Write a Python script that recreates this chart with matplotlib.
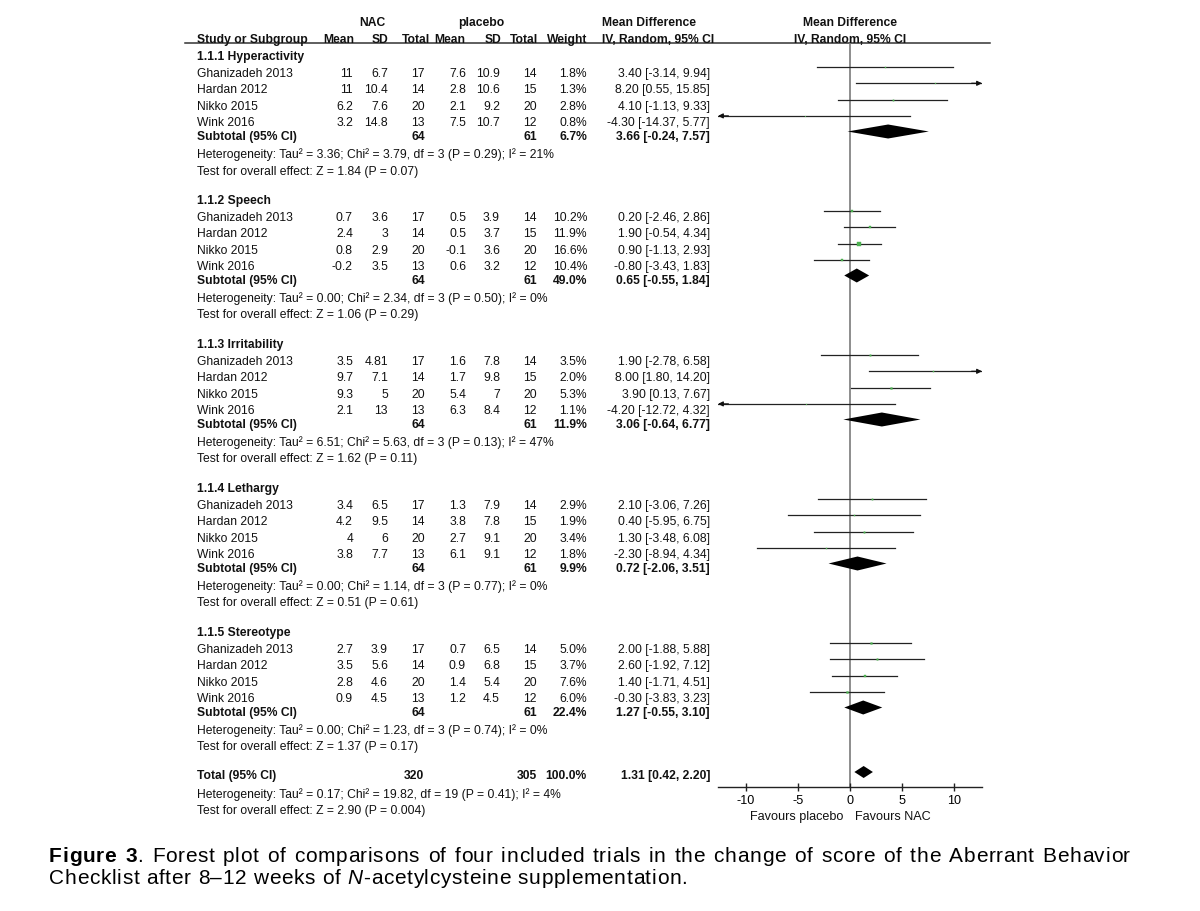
import numpy as np
import matplotlib
matplotlib.use("Agg")
import matplotlib.pyplot as plt

plt.rcParams['font.family'] = ['Liberation Sans', 'DejaVu Sans']

# ---- data -------------------------------------------------------------
studies = ["Ghanizadeh 2013", "Hardan 2012", "Nikko 2015", "Wink 2016"]
groups = ["1.1.1 Hyperactivity", "1.1.2 Speech", "1.1.3 Irritability",
          "1.1.4 Lethargy", "1.1.5 Stereotype"]
n_nac = [17, 14, 20, 13]
n_pla = [14, 15, 20, 12]

nac_mean = [[11, 11, 6.2, 3.2], [0.7, 2.4, 0.8, -0.2], [3.5, 9.7, 9.3, 2.1],
            [3.4, 4.2, 4, 3.8], [2.7, 3.5, 2.8, 0.9]]
nac_sd = [[6.7, 10.4, 7.6, 14.8], [3.6, 3, 2.9, 3.5], [4.81, 7.1, 5, 13],
          [6.5, 9.5, 6, 7.7], [3.9, 5.6, 4.6, 4.5]]
pla_mean = [[7.6, 2.8, 2.1, 7.5], [0.5, 0.5, -0.1, 0.6], [1.6, 1.7, 5.4, 6.3],
            [1.3, 3.8, 2.7, 6.1], [0.7, 0.9, 1.4, 1.2]]
pla_sd = [[10.9, 10.6, 9.2, 10.7], [3.9, 3.7, 3.6, 3.2], [7.8, 9.8, 7, 8.4],
          [7.9, 7.8, 9.1, 9.1], [6.5, 6.8, 5.4, 4.5]]
weights = [[1.8, 1.3, 2.8, 0.8], [10.2, 11.9, 16.6, 10.4], [3.5, 2.0, 5.3, 1.1],
           [2.9, 1.9, 3.4, 1.8], [5.0, 3.7, 7.6, 6.0]]
md = [[3.40, 8.20, 4.10, -4.30], [0.20, 1.90, 0.90, -0.80], [1.90, 8.00, 3.90, -4.20],
      [2.10, 0.40, 1.30, -2.30], [2.00, 2.60, 1.40, -0.30]]
md_lo = [[-3.14, 0.55, -1.13, -14.37], [-2.46, -0.54, -1.13, -3.43],
         [-2.78, 1.80, 0.13, -12.72], [-3.06, -5.95, -3.48, -8.94],
         [-1.88, -1.92, -1.71, -3.83]]
md_hi = [[9.94, 15.85, 9.33, 5.77], [2.86, 4.34, 2.93, 1.83], [6.58, 14.20, 7.67, 4.32],
         [7.26, 6.75, 6.08, 4.34], [5.88, 7.12, 4.51, 3.23]]

sub_n_nac = [64, 64, 64, 64, 64]
sub_n_pla = [61, 61, 61, 61, 61]
sub_weight = [6.7, 49.0, 11.9, 9.9, 22.4]
sub_md = [3.66, 0.65, 3.06, 0.72, 1.27]
sub_lo = [-0.24, -0.55, -0.64, -2.06, -0.55]
sub_hi = [7.57, 1.84, 6.77, 3.51, 3.10]
het_tau2 = ["3.36", "0.00", "6.51", "0.00", "0.00"]
het_chi2 = ["3.79", "2.34", "5.63", "1.14", "1.23"]
het_p = ["0.29", "0.50", "0.13", "0.77", "0.74"]
het_i2 = [21, 0, 47, 0, 0]
z_val = ["1.84", "1.06", "1.62", "0.51", "1.37"]
z_p = ["0.07", "0.29", "0.11", "0.61", "0.17"]

total_n = [320, 305]
total_md, total_lo, total_hi = 1.31, 0.42, 2.20
total_het = "Heterogeneity: Tau² = 0.17; Chi² = 19.82, df = 19 (P = 0.41); I² = 4%"
total_z = "Test for overall effect: Z = 2.90 (P = 0.004)"

xticks = [-10, -5, 0, 5, 10]

# ---- layout (pixel coords, figure 1200x912) ------------------------------
W, H = 1200, 912
FS = 8.7
col_x = [353, 388, 425, 466, 500, 537, 587, 710]  # right edges of value columns
head_x = [354, 388, 430, 465, 501, 538, 587]
X_LEFT = 197
AX_L, AX_R, AX_TOP, AX_BOT = 718, 982, 44, 788
XLIM = 12.68

fig = plt.figure(figsize=(W / 100, H / 100), dpi=100)
tax = fig.add_axes([0, 0, 1, 1])
tax.set_xlim(0, W)
tax.set_ylim(H, 0)
tax.axis('off')

ax = fig.add_axes([AX_L / W, 1 - AX_BOT / H, (AX_R - AX_L) / W, (AX_BOT - AX_TOP) / H])
ax.set_xlim(-XLIM, XLIM)
ax.set_ylim(AX_BOT, AX_TOP)
ax.patch.set_visible(False)
for s in ['top', 'right', 'left']:
    ax.spines[s].set_visible(False)
ax.spines['bottom'].set_linewidth(1.0)
ax.spines['bottom'].set_color('#222222')
ax.set_yticks([])
ax.set_xticks(xticks)
ax.set_xticklabels([str(t) for t in xticks])
ax.tick_params(axis='x', direction='inout', length=6, width=1.0, color='#222222',
               labelsize=FS + 0.4, pad=2)
ax.axvline(0, color='#7a7a7a', lw=1.2, zorder=1)


def txt(x, y, s, ha='right', bold=False, size=FS, **kw):
    tax.text(x, y, s, ha=ha, va='baseline', fontsize=size,
             fontweight='bold' if bold else 'normal', color='#111111', **kw)


# headers
txt(372, 26, "NAC", ha='center', bold=True)
txt(481, 26, "placebo", ha='center', bold=True)
txt(602, 26, "Mean Difference", ha='left', bold=True)
txt(850, 26, "Mean Difference", ha='center', bold=True)
txt(X_LEFT, 43, "Study or Subgroup", ha='left', bold=True)
for x, h in zip(head_x, ["Mean", "SD", "Total", "Mean", "SD", "Total", "Weight"]):
    txt(x, 43, h, bold=True)
txt(602, 43, "IV, Random, 95% CI", ha='left', bold=True)
txt(850, 43, "IV, Random, 95% CI", ha='center', bold=True)
tax.plot([185, 990], [44, 44], color='#333333', lw=1.1)


def ci_line(y, lo, hi, est, w):
    a, b = max(lo, -XLIM), min(hi, XLIM)
    ax.plot([a, b], [y, y], color='#222222', lw=0.9, zorder=2)
    if hi > XLIM:
        ax.annotate('', xy=(XLIM, y), xytext=(b - 1, y),
                    arrowprops=dict(arrowstyle='-|>', color='#111111', lw=0.9,
                                    mutation_scale=7, shrinkA=0, shrinkB=0))
    if lo < -XLIM:
        ax.annotate('', xy=(-XLIM, y), xytext=(a + 1, y),
                    arrowprops=dict(arrowstyle='-|>', color='#111111', lw=0.9,
                                    mutation_scale=7, shrinkA=0, shrinkB=0))
    ax.plot([est], [y], marker='s', ms=0.55 * np.sqrt(w), color='#4cb050',
            mec='#4cb050', mew=0.3, zorder=3)


def diamond(y, lo, est, hi, h):
    ax.fill([lo, est, hi, est], [y, y - h, y, y + h], color='black', lw=0, zorder=3)


fmt = lambda v: f"{v:g}"
fmt_ci = lambda m, l, h: f"{m:.2f} [{l:.2f}, {h:.2f}]"

for g in range(len(groups)):
    base = 60 + 144 * g
    txt(X_LEFT, base, groups[g], ha='left', bold=True)
    for i in range(len(studies)):
        y = base + 17 + 16.3 * i
        txt(X_LEFT, y, studies[i], ha='left')
        vals = [fmt(nac_mean[g][i]), fmt(nac_sd[g][i]), str(n_nac[i]),
                fmt(pla_mean[g][i]), fmt(pla_sd[g][i]), str(n_pla[i]),
                f"{weights[g][i]:.1f}%", fmt_ci(md[g][i], md_lo[g][i], md_hi[g][i])]
        for x, v in zip(col_x, vals):
            txt(x, y, v)
        ci_line(y - 9, md_lo[g][i], md_hi[g][i], md[g][i], weights[g][i])
    ys = base + 80
    txt(X_LEFT, ys, "Subtotal (95% CI)", ha='left', bold=True)
    txt(col_x[2], ys, str(sub_n_nac[g]), bold=True)
    txt(col_x[5], ys, str(sub_n_pla[g]), bold=True)
    txt(col_x[6], ys, f"{sub_weight[g]:.1f}%", bold=True)
    txt(col_x[7], ys, fmt_ci(sub_md[g], sub_lo[g], sub_hi[g]), bold=True)
    diamond(ys - 7.5, sub_lo[g], sub_md[g], sub_hi[g], 7)
    txt(X_LEFT, base + 98.3,
        f"Heterogeneity: Tau² = {het_tau2[g]}; Chi² = {het_chi2[g]}, df = 3 "
        f"(P = {het_p[g]}); I² = {het_i2[g]}%", ha='left')
    txt(X_LEFT, base + 114.5,
        f"Test for overall effect: Z = {z_val[g]} (P = {z_p[g]})", ha='left')

yt = 779.5
txt(X_LEFT, yt, "Total (95% CI)", ha='left', bold=True)
txt(424, yt, str(total_n[0]), bold=True)
txt(col_x[5], yt, str(total_n[1]), bold=True)
txt(col_x[6], yt, "100.0%", bold=True)
txt(col_x[7], yt, fmt_ci(total_md, total_lo, total_hi), bold=True)
diamond(yt - 6.5, total_lo, total_md, total_hi, 6)
txt(X_LEFT, 798, total_het, ha='left')
txt(X_LEFT, 814.5, total_z, ha='left')

txt(843, 820, "Favours placebo", ha='right', size=FS + 0.4)
txt(855, 820, "Favours NAC", ha='left', size=FS + 0.4)

# ---- caption: slightly letter-spaced, first line justified ------------------
CAP = 15
renderer = fig.canvas.get_renderer()
_wcache = {}


def ink_w(s, wt, st):
    t = tax.text(0, 0, s, fontsize=CAP, fontweight=wt, fontstyle=st)
    w = t.get_window_extent(renderer).width
    t.remove()
    return w


def char_w(c, wt, st):
    # advance width of c, measured between two H's
    key = (c, wt, st)
    if key not in _wcache:
        _wcache[key] = ink_w("H" + c + "H", wt, st) - ink_w("HH", wt, st)
    return _wcache[key]


def word_w(runs, track):
    return sum(char_w(c, wt, st) + track for s, wt, st in runs for c in s) - track


def draw_word(x, y, runs, track):
    for s, wt, st in runs:
        for c in s:
            tax.text(x, y, c, fontsize=CAP, fontweight=wt, fontstyle=st,
                     ha='left', va='baseline', color='black')
            x += char_w(c, wt, st) + track


N, B, I = 'normal', 'bold', 'italic'
line2 = [[("Checklist", N, N)], [("after", N, N)], [("8–12", N, N)], [("weeks", N, N)],
         [("of", N, N)], [("N", N, I), ("-acetylcysteine", N, N)],
         [("supplementation.", N, N)]]
line1 = [[("Figure", B, N)], [("3", B, N), (".", N, N)]]
line1 += [[(w, N, N)] for w in
          "Forest plot of comparisons of four included trials in the change of score of the Aberrant Behavior".split()]

space = char_w(" ", N, N)
nchar2 = sum(len(s) for r in line2 for s, _, _ in r)
base2 = sum(word_w(r, 0) for r in line2) + space * (len(line2) - 1)
track = max(0.0, (692 - 49 - base2) / (nchar2 + 2 * (len(line2) - 1)))

x = 49
for r in line2:
    draw_word(x, 884, r, track)
    x += word_w(r, track) + track + space + track

w1 = [word_w(r, track) for r in line1]
gap = (1130 - 49 - sum(w1)) / (len(line1) - 1)
x = 49
for r, w in zip(line1, w1):
    draw_word(x, 862, r, track)
    x += w + gap

fig.savefig("out.png", dpi=100)
